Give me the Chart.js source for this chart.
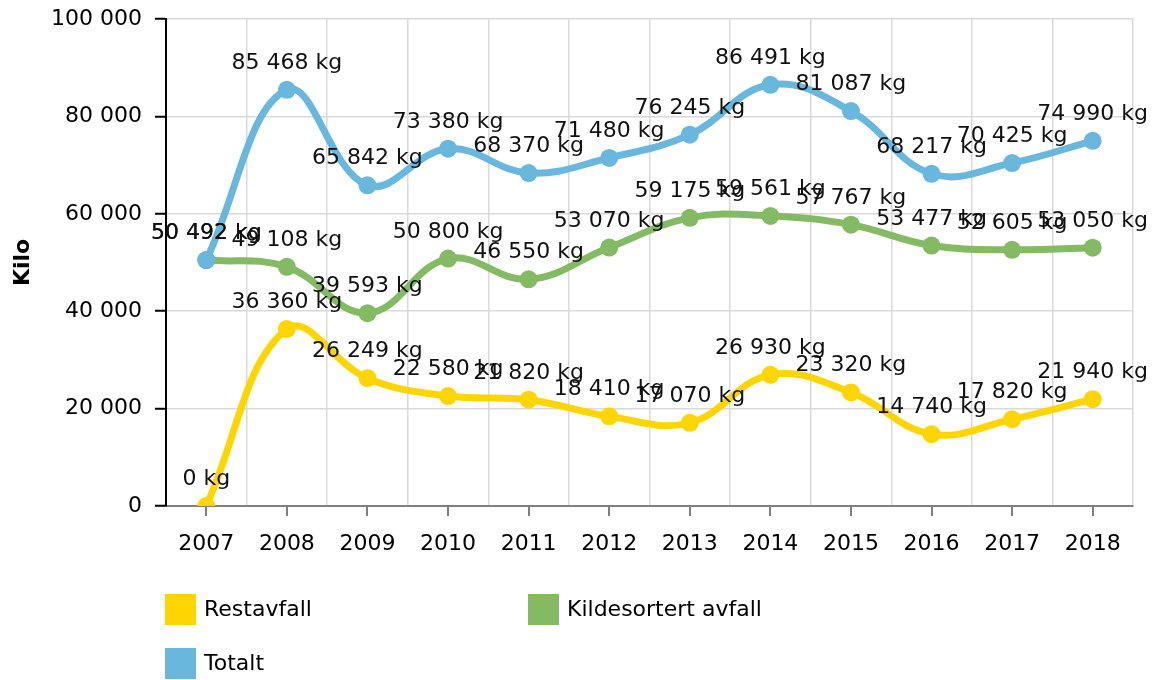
<!DOCTYPE html>
<html><head><meta charset="utf-8">
<script src="https://cdn.jsdelivr.net/npm/chart.js@4.4.0/dist/chart.umd.min.js"></script>
<style>html,body{margin:0;padding:0;background:#fff;}#wrap{width:1157px;height:680px;position:relative;}</style>
</head><body><div id="wrap"><canvas id="c" width="1157" height="680"></canvas></div>
<script>
const years = ['2007','2008','2009','2010','2011','2012','2013','2014','2015','2016','2017','2018'];
const restavfall = [0, 36360, 26249, 22580, 21820, 18410, 17070, 26930, 23320, 14740, 17820, 21940];
const kildesortert = [50492, 49108, 39593, 50800, 46550, 53070, 59175, 59561, 57767, 53477, 52605, 53050];
const totalt = [50492, 85468, 65842, 73380, 68370, 71480, 76245, 86491, 81087, 68217, 70425, 74990];
const yMin = 0, yMax = 100000, yStep = 20000;
const seriesNames = ['Restavfall', 'Kildesortert avfall', 'Totalt'];
const seriesColors = ['#FFD500', '#84BA64', '#69B7DC'];
const yTitle = 'Kilo';
const unit = ' kg';

const FONT = '"DejaVu Sans", Verdana, sans-serif';
Chart.defaults.font.family = FONT;
Chart.defaults.font.size = 22;
Chart.defaults.color = '#000';

function fmt(v) { return String(Math.round(v)).replace(/\B(?=(\d{3})+(?!\d))/g, ' '); }

const extras = {
  id: 'extras',
  afterDraw(chart) {
    const ctx = chart.ctx, x = chart.scales.x, y = chart.scales.y;
    ctx.save();
    ctx.strokeStyle = '#808080'; ctx.lineWidth = 2;
    years.forEach((_, i) => {
      const px = Math.round(x.getPixelForValue(i));
      ctx.beginPath(); ctx.moveTo(px, y.bottom); ctx.lineTo(px, y.bottom + 10); ctx.stroke();
    });
    ctx.fillStyle = '#000';
    ctx.font = 'bold 22px ' + FONT;
    ctx.textAlign = 'center'; ctx.textBaseline = 'middle';
    ctx.translate(23, (y.top + y.bottom) / 2);
    ctx.rotate(-Math.PI / 2);
    ctx.fillText(yTitle, 0, 0);
    ctx.restore();
    ctx.save();
    ctx.font = '22px ' + FONT;
    ctx.textAlign = 'left'; ctx.textBaseline = 'middle';
    const pos = [[165, 594], [528, 594], [165, 648]];
    seriesNames.forEach((n, i) => {
      const [lx, ly] = pos[i];
      ctx.fillStyle = seriesColors[i];
      ctx.fillRect(lx, ly, 31, 31);
      ctx.fillStyle = '#000';
      ctx.fillText(n, lx + 39, ly + 16);
    });
    ctx.restore();
  },
  afterDatasetsDraw(chart) {
    const ctx = chart.ctx;
    ctx.save();
    ctx.font = '22px ' + FONT;
    ctx.fillStyle = '#111';
    ctx.textAlign = 'center'; ctx.textBaseline = 'alphabetic';
    chart.data.datasets.forEach((ds, di) => {
      const meta = chart.getDatasetMeta(di);
      meta.data.forEach((el, i) => {
        ctx.fillText(fmt(ds.data[i]) + unit, el.x, el.y - 21);
      });
    });
    ctx.restore();
  }
};

const mk = (i, data, order) => ({
  label: seriesNames[i], data, order,
  borderColor: seriesColors[i], backgroundColor: seriesColors[i],
  pointBackgroundColor: seriesColors[i], pointBorderColor: seriesColors[i],
  borderWidth: 7, pointRadius: 9, pointBorderWidth: 0, tension: 0.4, fill: false
});

new Chart(document.getElementById('c'), {
  type: 'line',
  data: { labels: years, datasets: [mk(0, restavfall, 2), mk(1, kildesortert, 1), mk(2, totalt, 0)] },
  options: {
    responsive: false, animation: false,
    layout: { padding: { left: 0, right: 24, top: 19, bottom: 0 } },
    plugins: { legend: { display: false }, tooltip: { enabled: false } },
    scales: {
      x: {
        offset: true,
        grid: { offset: true, color: '#d9d9d9', lineWidth: 1.5, drawTicks: false },
        border: { color: '#808080', width: 2 },
        ticks: { padding: 25, font: { size: 22 }, color: '#000', maxRotation: 0, autoSkip: false },
        afterFit(s) { s.height = 174; s.paddingLeft = 0; s.paddingRight = 0; }
      },
      y: {
        min: yMin, max: yMax,
        grid: { color: '#d9d9d9', lineWidth: 1.5, tickLength: 11, tickColor: '#000', tickWidth: 2 },
        border: { color: '#000', width: 2 },
        ticks: { stepSize: yStep, padding: 13, font: { size: 22 }, color: '#000', callback: v => fmt(v) },
        afterFit(s) { s.width = 166; s.paddingTop = 0; s.paddingBottom = 0; }
      }
    }
  },
  plugins: [extras]
});
</script></body></html>
